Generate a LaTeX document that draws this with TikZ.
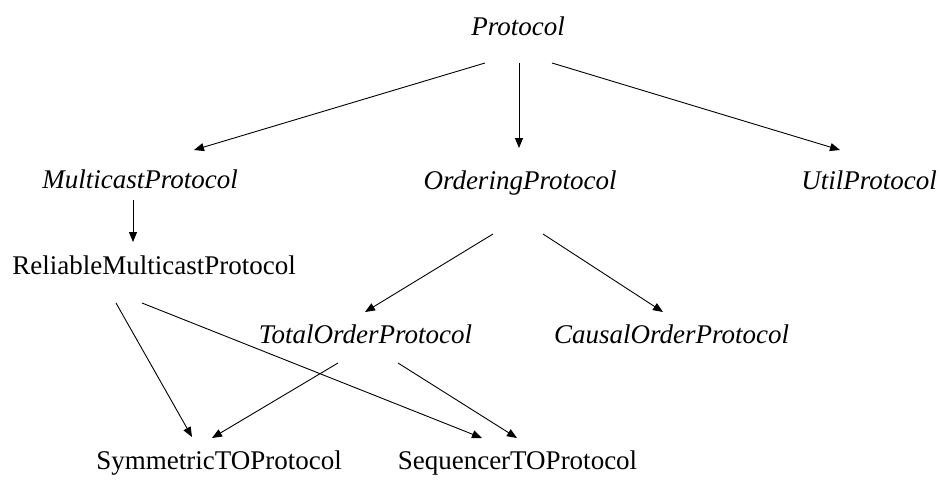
\documentclass[tikz,border=0pt]{standalone}
\usepackage{fontspec}
\setmainfont{Liberation Serif}
\usetikzlibrary{arrows.meta}
\begin{document}
\begin{tikzpicture}[x=1pt,y=-1pt,
  lbl/.style={anchor=base,inner sep=0pt,font=\fontsize{27}{30}\selectfont},
  it/.style={lbl,font=\fontsize{27}{30}\selectfont\itshape},
  arr/.style={line width=0.9pt,-{Triangle[length=10pt,width=8pt]}}]
\useasboundingbox (0,0) rectangle (940,485);
\node[it] (P) at (518,35) {Protocol};
\node[it] (M) at (140,188) {MulticastProtocol};
\node[it] (O) at (520,189) {OrderingProtocol};
\node[it] (U) at (869,189) {UtilProtocol};
\node[lbl] (R) at (154,274) {ReliableMulticastProtocol};
\node[it] (T) at (365.5,343) {TotalOrderProtocol};
\node[it] (C) at (671.5,343) {CausalOrderProtocol};
\node[lbl] (S) at (219,469) {SymmetricTOProtocol};
\node[lbl] (Q) at (517.5,469) {SequencerTOProtocol};
\draw[arr] ([shift={(-33,28)}]P.base) -- ([shift={(54,-38)}]M.base);
\draw[arr] ([shift={(1,28)}]P.base) -- ([shift={(-1,-41)}]O.base);
\draw[arr] ([shift={(34,28)}]P.base) -- ([shift={(-29,-39)}]U.base);
\draw[arr] ([shift={(-7,12)}]M.base) -- ([shift={(-21,-32)}]R.base);
\draw[arr] ([shift={(-27,45)}]O.base) -- ([shift={(-0.5,-31)}]T.base);
\draw[arr] ([shift={(23,45)}]O.base) -- ([shift={(-8.5,-31)}]C.base);
\draw[arr] ([shift={(-38,29)}]R.base) -- ([shift={(-27,-32)}]S.base);
\draw[arr] ([shift={(-12,29)}]R.base) -- ([shift={(-35.5,-31)}]Q.base);
\draw[arr] ([shift={(-27.5,20)}]T.base) -- ([shift={(-7,-31)}]S.base);
\draw[arr] ([shift={(32.5,20)}]T.base) -- ([shift={(-0.5,-31)}]Q.base);
\end{tikzpicture}
\end{document}
